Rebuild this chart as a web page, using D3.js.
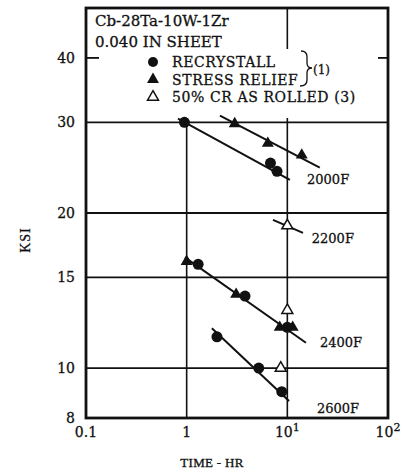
<!DOCTYPE html>
<html>
<head>
<meta charset="utf-8">
<script src="https://cdn.jsdelivr.net/npm/d3@7.9.0/dist/d3.min.js"></script>
<style>
  body { margin: 0; background: #fff; }
  svg text { font-family: "DejaVu Serif", "Liberation Serif", serif; fill: #111; stroke: #111; stroke-width: 0.3; }
</style>
</head>
<body>
<svg id="chart" width="401" height="473"></svg>
<script>
// time (hr) and stress (ksi)
const recrystall = [
  [0.95, 30], [6.8, 25], [7.9, 24.1],        // 2000F
  [1.3, 15.9], [3.8, 13.8], [10, 12],        // 2400F
  [2.0, 11.5], [5.2, 10], [8.8, 9.0]         // 2600F
];
const stressRelief = [
  [3.0, 29.8], [6.4, 27.3], [13.9, 25.9],    // 2000F
  [1.0, 16.1], [3.1, 13.9], [8.4, 12], [11.3, 12]  // 2400F
];
const asRolled = [[10, 18.9], [10, 12.95], [8.6, 10]];

// fitted lines, [start, end]
const fitLines = [
  [[0.82, 30.5], [10.6, 23.2]],   // 2000F recrystall
  [[2.14, 30.9], [21, 24.5]],     // 2000F stress relief
  [[7.2, 19.4], [14.3, 18.3]],    // 2200F
  [[0.96, 16.4], [15.3, 11.2]],   // 2400F
  [[1.78, 11.95], [10.4, 8.63]]   // 2600F
];
const tempLabels = ["2000F", "2200F", "2400F", "2600F"];
const tempLabelAt = [[15.7, 22.8], [17.5, 17.5], [21.1, 10.98], [19.7, 8.18]];

const yTicks = [40, 30, 20, 15, 10, 8];
const yGrid = [30, 20, 15, 10];
const xGrid = [1, 10];
const xTickLabels = [[0.1, "0.1", ""], [1, "1", ""], [10, "10", "1"], [100, "10", "2"]];

const titleLines = ["Cb-28Ta-10W-1Zr", "0.040 IN SHEET"];
const legendItems = ["RECRYSTALL", "STRESS RELIEF", "50% CR AS ROLLED (3)"];

const svg = d3.select('#chart');
const x = d3.scaleLog().domain([0.1, 100]).range([86, 388]);
const y = d3.scaleLog().domain([8, 50]).range([418, 8]);

// grid
svg.append('g').selectAll('line').data(yGrid).join('line')
  .attr('x1', x(0.1)).attr('x2', x(100))
  .attr('y1', d => y(d)).attr('y2', d => y(d))
  .attr('stroke', '#111').attr('stroke-width', 1.8);
svg.append('g').selectAll('line').data(xGrid).join('line')
  .attr('x1', d => x(d)).attr('x2', d => x(d))
  .attr('y1', y(8)).attr('y2', y(50))
  .attr('stroke', '#111').attr('stroke-width', 1.6);

// white legend area
svg.append('rect').attr('x', 88).attr('y', 9).attr('width', 178).attr('height', 41).attr('fill', '#fff');
svg.append('rect').attr('x', 88).attr('y', 49).attr('width', 268).attr('height', 69).attr('fill', '#fff');

// frame
svg.append('rect')
  .attr('x', x(0.1)).attr('y', y(50))
  .attr('width', x(100) - x(0.1)).attr('height', y(8) - y(50))
  .attr('fill', 'none').attr('stroke', '#111').attr('stroke-width', 2.8);

// short ticks at 40
[[x(0.1), x(0.1) + 13], [x(100) - 10, x(100)]].forEach(([a, b]) => {
  svg.append('line').attr('x1', a).attr('x2', b).attr('y1', y(40)).attr('y2', y(40))
    .attr('stroke', '#111').attr('stroke-width', 1.8);
});

// fit lines
const line = d3.line().x(d => x(d[0])).y(d => y(d[1]));
svg.append('g').selectAll('path').data(fitLines).join('path')
  .attr('d', d => line(d))
  .attr('fill', 'none').attr('stroke', '#111').attr('stroke-width', 2);

// markers
const triFilled = d3.symbol().type(d3.symbolTriangle).size(62);
const triOpen = d3.symbol().type(d3.symbolTriangle).size(52);
svg.append('g').selectAll('circle').data(recrystall).join('circle')
  .attr('cx', d => x(d[0])).attr('cy', d => y(d[1])).attr('r', 5.5).attr('fill', '#111');
svg.append('g').selectAll('path').data(stressRelief).join('path')
  .attr('d', triFilled).attr('transform', d => `translate(${x(d[0])},${y(d[1])})`).attr('fill', '#111');
svg.append('g').selectAll('path').data(asRolled).join('path')
  .attr('d', triOpen).attr('transform', d => `translate(${x(d[0])},${y(d[1])})`)
  .attr('fill', '#fff').attr('stroke', '#111').attr('stroke-width', 1.5);

// temperature labels
svg.append('g').selectAll('text').data(tempLabels).join('text')
  .attr('x', (d, i) => x(tempLabelAt[i][0])).attr('y', (d, i) => y(tempLabelAt[i][1]))
  .attr('font-size', 13).text(d => d);

// axis tick labels
svg.append('g').selectAll('text').data(yTicks).join('text')
  .attr('x', 75).attr('y', d => y(d) + 5).attr('text-anchor', 'end')
  .attr('font-size', 14).text(d => d);
const xt = svg.append('g').selectAll('text').data(xTickLabels).join('text')
  .attr('x', d => x(d[0])).attr('y', 437).attr('text-anchor', 'middle').attr('font-size', 14);
xt.append('tspan').text(d => d[1]);
xt.append('tspan').attr('dy', -6).attr('font-size', 11).text(d => d[2]);

svg.append('text').attr('x', 212).attr('y', 467).attr('text-anchor', 'middle')
  .attr('font-size', 13).attr('letter-spacing', 0.3).style('font-family', '"Liberation Serif", serif').text('TIME - HR');
svg.append('text').attr('transform', 'translate(30,240) rotate(-90)')
  .attr('text-anchor', 'middle').attr('font-size', 14).attr('letter-spacing', 1)
  .style('font-family', '"Liberation Serif", serif').text('KSI');

// legend
svg.append('g').selectAll('text').data(titleLines).join('text')
  .attr('x', 95).attr('y', (d, i) => 26 + i * 21)
  .attr('font-size', 15).text(d => d);
const lg = svg.append('g');
legendItems.forEach((d, i) => {
  const ly = 62 + i * 17.5;
  if (i === 0) lg.append('circle').attr('cx', 153).attr('cy', ly).attr('r', 5).attr('fill', '#111');
  if (i === 1) lg.append('path').attr('d', triFilled).attr('transform', `translate(153,${ly})`).attr('fill', '#111');
  if (i === 2) lg.append('path').attr('d', triOpen).attr('transform', `translate(153,${ly})`)
    .attr('fill', '#fff').attr('stroke', '#111').attr('stroke-width', 1.5);
  lg.append('text').attr('x', 172).attr('y', ly + 5).attr('font-size', 14).attr('letter-spacing', 0.6).text(d);
});
lg.append('path')
  .attr('d', 'M301,51 Q307,51 307,57 L307,63 Q307,68 312,68 Q307,68 307,73 L307,80 Q307,86 300,86')
  .attr('fill', 'none').attr('stroke', '#111').attr('stroke-width', 1.3);
lg.append('text').attr('x', 313).attr('y', 74).attr('font-size', 12).text('(1)');
</script>
</body>
</html>
